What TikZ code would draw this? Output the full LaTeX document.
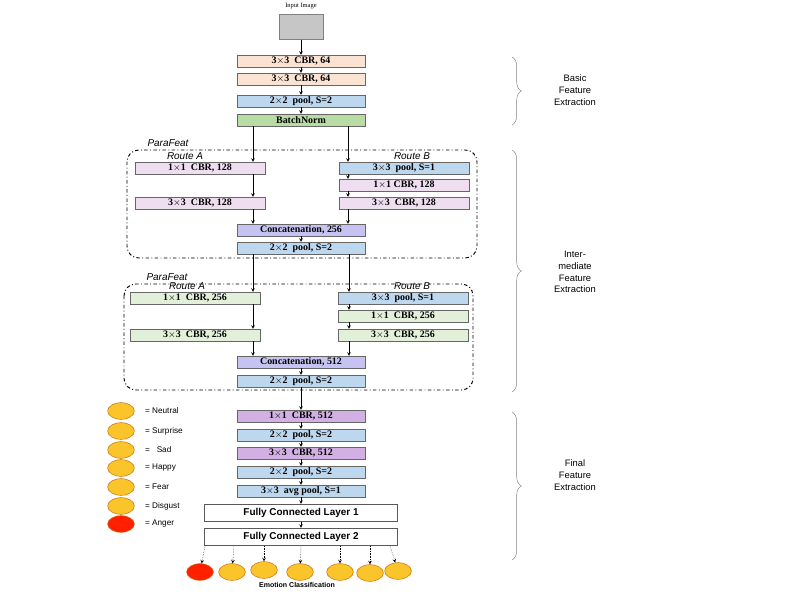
\documentclass[tikz,border=0pt]{standalone}
\usepackage{fontspec}
\setmainfont{Liberation Serif}
\setsansfont{Liberation Sans}
\usetikzlibrary{decorations.pathreplacing}
\definecolor{cpeach}{HTML}{FBE3D3}
\definecolor{cblue}{HTML}{BDD7EE}
\definecolor{cgreen}{HTML}{B9DBA4}
\definecolor{cpink}{HTML}{EFDDF0}
\definecolor{clav}{HTML}{C6C3F2}
\definecolor{cpurp}{HTML}{D2B0E3}
\definecolor{cmint}{HTML}{E2F0DA}
\definecolor{cyel}{HTML}{F9C52B}
\tikzset{
  layer/.style={draw=gray!80!black, minimum height=0.35cm, inner sep=0pt,
    font=\fontsize{8.5}{8.5}\selectfont\bfseries},
  wbox/.style={layer, minimum width=3.84cm},
  nbox/.style={layer, minimum width=3.9cm},
  fc/.style={draw=gray!70!black, thick, fill=white, minimum width=5.8cm, minimum height=0.45cm,
    font=\sffamily\bfseries\fontsize{8.5}{9}\selectfont},
  para/.style={draw, thick, dash dot, rounded corners=10pt},
  face/.style={ellipse, draw=orange!80!black, fill=cyel, inner sep=0pt, minimum width=0.8cm, minimum height=0.5cm},
  lbl/.style={font=\sffamily\fontsize{7}{8}\selectfont, anchor=west},
  route/.style={font=\sffamily\itshape\fontsize{8.5}{9}\selectfont, inner sep=0.5pt},
  brace/.style={decorate, decoration={brace, amplitude=8pt}, gray},
  stage/.style={font=\sffamily\fontsize{8}{10}\selectfont, align=center},
  arr/.style={-stealth, thin},
  dotarr/.style={-stealth, densely dotted}
}
\usetikzlibrary{shapes.geometric}
\begin{document}
\begin{tikzpicture}[x=0.03cm,y=-0.03cm]
\useasboundingbox (0,0) rectangle (800,600);
% Input
\node[font=\fontsize{5.5}{6}\selectfont] (title) at (301,6) {Input Image};
\node[draw=gray, fill=gray!45, minimum width=1.32cm, minimum height=0.75cm, inner sep=0pt] (img) at (301,27) {};
% Basic block
\node[wbox, fill=cpeach] (c1) at (301,61) {3$\times$3\ \ CBR, 64};
\node[wbox, fill=cpeach] (c2) at (301,79) {3$\times$3\ \ CBR, 64};
\node[wbox, fill=cblue] (p1) at (301,101) {2$\times$2\ \ pool, S=2};
\node[wbox, fill=cgreen] (bn) at (301,120) {BatchNorm};
\draw[arr] (img) -- (c1);
\draw[arr] (c1) -- (c2);
\draw[arr] (c2) -- (p1);
\draw[arr] (p1) -- (bn);
% ParaFeat 1
\draw[para] (127,150) rectangle (477,258);
\node[route] (pf1) at (168,143) {ParaFeat};
\node[route] (ra1) at (185,156) {Route A};
\node[route] (rb1) at (412,156) {Route B};
\node[nbox, fill=cpink] (a11) at (200,168) {1$\times$1\ \ CBR, 128};
\node[nbox, fill=cpink] (a12) at (200,203) {3$\times$3\ \ CBR, 128};
\node[nbox, fill=cblue] (b11) at (404,168) {3$\times$3\ \ pool, S=1};
\node[nbox, fill=cpink] (b12) at (404,185) {1$\times$1 CBR, 128};
\node[nbox, fill=cpink] (b13) at (404,203) {3$\times$3\ \ CBR, 128};
\node[wbox, fill=clav] (cat1) at (301,230) {Concatenation, 256};
\node[wbox, fill=cblue] (p2) at (301,248) {2$\times$2\ \ pool, S=2};
\draw[arr] (bn.south -| 253,0) -- (a11.north -| 253,0);
\draw[arr] (bn.south -| 348,0) -- (b11.north -| 348,0);
\draw[arr] (a11.south -| 253,0) -- (a12.north -| 253,0);
\draw[arr] (b11.south -| 348,0) -- (b12.north -| 348,0);
\draw[arr] (b12.south -| 348,0) -- (b13.north -| 348,0);
\draw[arr] (a12.south -| 253,0) -- (cat1.north -| 253,0);
\draw[arr] (b13.south -| 348,0) -- (cat1.north -| 348,0);
\draw[arr] (cat1) -- (p2);
% ParaFeat 2
\draw[para] (124,284) rectangle (473,390);
\node[route] (pf2) at (167,277) {ParaFeat};
\node[route] (ra2) at (187,286) {Route A};
\node[route] (rb2) at (412,286) {Route B};
\node[nbox, fill=cmint] (a21) at (195,298) {1$\times$1\ \ CBR, 256};
\node[nbox, fill=cmint] (a22) at (195,335) {3$\times$3\ \ CBR, 256};
\node[nbox, fill=cblue] (b21) at (403,298) {3$\times$3\ \ pool, S=1};
\node[nbox, fill=cmint] (b22) at (403,316) {1$\times$1\ \ CBR, 256};
\node[nbox, fill=cmint] (b23) at (403,335) {3$\times$3\ \ CBR, 256};
\node[wbox, fill=clav] (cat2) at (301,362) {Concatenation, 512};
\node[wbox, fill=cblue] (p3) at (301,381) {2$\times$2\ \ pool, S=2};
\draw[arr] (p2.south -| 253,0) -- (a21.north -| 253,0);
\draw[arr] (p2.south -| 349,0) -- (b21.north -| 349,0);
\draw[arr] (a21.south -| 253,0) -- (a22.north -| 253,0);
\draw[arr] (b21.south -| 349,0) -- (b22.north -| 349,0);
\draw[arr] (b22.south -| 349,0) -- (b23.north -| 349,0);
\draw[arr] (a22.south -| 253,0) -- (cat2.north -| 253,0);
\draw[arr] (b23.south -| 349,0) -- (cat2.north -| 349,0);
\draw[arr] (cat2) -- (p3);
% Final block
\node[wbox, fill=cpurp] (f1) at (301,416) {1$\times$1\ \ CBR, 512};
\node[wbox, fill=cblue] (f2) at (301,435) {2$\times$2\ \ pool, S=2};
\node[wbox, fill=cpurp] (f3) at (301,453) {3$\times$3\ \ CBR, 512};
\node[wbox, fill=cblue] (f4) at (301,472) {2$\times$2\ \ pool, S=2};
\node[wbox, fill=cblue] (f5) at (301,491) {3$\times$3\ \ avg pool, S=1};
\node[fc] (fc1) at (301,513) {Fully Connected Layer 1};
\node[fc] (fc2) at (301,537) {Fully Connected Layer 2};
\draw[arr] (p3) -- (f1);
\draw[arr] (f1) -- (f2);
\draw[arr] (f2) -- (f3);
\draw[arr] (f3) -- (f4);
\draw[arr] (f4) -- (f5);
\draw[arr] (f5) -- (fc1);
\draw[arr] (fc1) -- (fc2);
% Output faces
\node[face, fill=red!75!orange] (e1) at (200,572) {};
\node[face] (e2) at (232,572) {};
\node[face] (e3) at (264,570) {};
\node[face] (e4) at (300,572) {};
\node[face] (e5) at (340,572) {};
\node[face] (e6) at (370,573) {};
\node[face] (e7) at (398,571) {};
\draw[dotarr] (fc2.south -| 205,0) -- (e1);
\draw[dotarr] (fc2.south -| 234,0) -- (e2);
\draw[dotarr] (fc2.south -| 264,0) -- (e3);
\draw[dotarr] (fc2.south -| 301,0) -- (e4);
\draw[dotarr] (fc2.south -| 340,0) -- (e5);
\draw[dotarr] (fc2.south -| 370,0) -- (e6);
\draw[dotarr] (fc2.south -| 390,0) -- (e7);
\node[font=\sffamily\bfseries\fontsize{6}{7}\selectfont] (emo) at (297,585) {Emotion Classification};
% Legend
\foreach \y/\t/\c [count=\i] in {411/Neutral/cyel, 431/Surprise/cyel, 450/\ \ Sad/cyel, 468/Happy/cyel, 487/Fear/cyel, 506/Disgust/cyel, 524/Anger/red!75!orange}{
  \node[face, fill=\c] (l\i) at (121,\y) {};
  \node[lbl] (lt\i) at (141,\y) {= \t};
}
% Stages
\draw[brace] (512,57) -- (512,125);
\draw[brace] (512,150) -- (512,392);
\draw[brace] (512,412) -- (512,560);
\node[stage] (s1) at (575,90) {Basic\\Feature\\Extraction};
\node[stage] (s2) at (575,272) {Inter-\\mediate\\Feature\\Extraction};
\node[stage] (s3) at (575,475) {Final\\Feature\\Extraction};
\end{tikzpicture}
\end{document}
